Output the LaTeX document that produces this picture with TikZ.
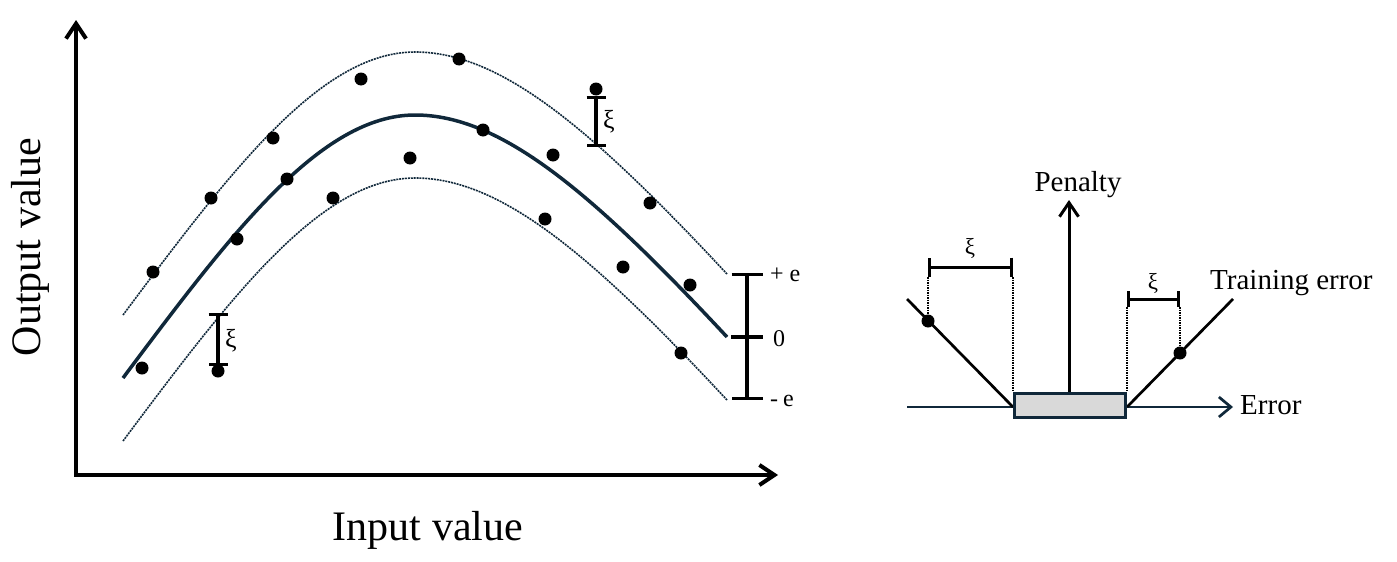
\documentclass[tikz,border=0pt]{standalone}
\usepackage{fontspec}
\setmainfont{Liberation Serif}
\usetikzlibrary{arrows.meta}
\definecolor{navy}{RGB}{16,40,58}
\definecolor{boxgray}{RGB}{217,217,217}
\begin{document}
\begin{tikzpicture}[x=1pt,y=-1pt,
  axisline/.style={line width=4pt, {Straight Barb[length=15pt,width=20pt]}-{Straight Barb[length=15pt,width=20pt]}},
  fitline/.style={draw=navy, line width=3.5pt},
  marginline/.style={draw=navy, line width=1.6pt, dash pattern=on 2pt off 0.9pt},
  datadot/.style={circle, fill=black, inner sep=0pt, minimum size=13pt},
  slackbar/.style={line width=3.2pt, {Bar[width=19pt]}-{Bar[width=19pt]}},
  bracketbar/.style={line width=3pt, {Bar[width=19pt]}-{Bar[width=19pt]}},
  guide/.style={line width=1.2pt, dash pattern=on 1.5pt off 1pt},
  biglabel/.style={font=\fontsize{42}{50}\selectfont, inner sep=0pt},
  midlabel/.style={font=\fontsize{29}{35}\selectfont, inner sep=0pt},
  smalllabel/.style={font=\fontsize{24}{28}\selectfont, inner sep=0pt},
  xilabel/.style={font=\fontsize{26}{30}\selectfont, inner sep=0pt},
  xismall/.style={font=\fontsize{23}{27}\selectfont, inner sep=0pt}]
\useasboundingbox (0,0) rectangle (1397,562);

% ---------- left graph ----------
\coordinate (ytip) at (76,20);
\coordinate (origin) at (76,475);
\coordinate (xtip) at (778,475);
\draw[axisline] (ytip) -- (origin) -- (xtip);

\node[biglabel, anchor=base] (inlab) at (428,540) {Input value};
\node[biglabel, anchor=base, rotate=90] (outlab) at (40,247) {Output value};

% regression tube
\draw[marginline] (123,315) .. controls (230,172) and (320,52) .. (415,52) .. controls (500,52) and (590,127) .. (727,274);
\draw[fitline] (123,378) .. controls (230,235) and (320,115) .. (415,115) .. controls (500,115) and (590,190) .. (727,337);
\draw[marginline] (123,441) .. controls (230,298) and (320,178) .. (415,178) .. controls (500,178) and (590,253) .. (727,400);

% slack bars
\coordinate (s1t) at (218,313);
\coordinate (s1b) at (218,366);
\draw[slackbar] (s1t) -- (s1b);
\node[xilabel] (xi1) at (231,341) {ξ};
\coordinate (s2t) at (596,96);
\coordinate (s2b) at (596,147);
\draw[slackbar] (s2t) -- (s2b);
\node[xilabel] (xi2) at (609,122) {ξ};

% data points
\node[datadot] (d1) at (153,272) {};
\node[datadot] (d2) at (142,368) {};
\node[datadot] (d3) at (211,198) {};
\node[datadot] (d4) at (237,239) {};
\node[datadot] (d5) at (273,138) {};
\node[datadot] (d6) at (287,179) {};
\node[datadot] (d7) at (218,371) {};
\node[datadot] (d8) at (333,198) {};
\node[datadot] (d9) at (361,79) {};
\node[datadot] (d10) at (410,158) {};
\node[datadot] (d11) at (459,59) {};
\node[datadot] (d12) at (483,130) {};
\node[datadot] (d13) at (545,219) {};
\node[datadot] (d14) at (553,155) {};
\node[datadot] (d15) at (596,89) {};
\node[datadot] (d16) at (623,267) {};
\node[datadot] (d17) at (650,203) {};
\node[datadot] (d18) at (690,285) {};
\node[datadot] (d19) at (681,353) {};

% +e / 0 / -e scale
\coordinate (et) at (747,273);
\coordinate (eb) at (747,400);
\coordinate (em1) at (731,337);
\coordinate (em2) at (763,337);
\draw[line width=3.2pt, {Bar[width=31pt]}-{Bar[width=31pt]}] (et) -- (eb);
\draw[line width=3.2pt] (em1) -- (em2);
\node[smalllabel, anchor=west] (plus) at (770,275) {+ e};
\node[smalllabel, anchor=west] (zero) at (773,339) {0};
\node[smalllabel, anchor=west] (minus) at (770,401) {-\hspace{5pt}e};

% ---------- right diagram ----------
\coordinate (eL) at (907,407);
\coordinate (eR) at (1233,407);
\draw[navy, line width=2.7pt, -{Straight Barb[length=12pt,width=20pt]}] (eL) -- (eR);

\coordinate (vL0) at (907,299);
\coordinate (vL1) at (1013,407);
\coordinate (vR0) at (1127,407);
\coordinate (vR1) at (1233,299);
\draw[line width=2.7pt] (vL0) -- (vL1);
\draw[line width=2.7pt] (vR0) -- (vR1);

\node[draw=navy, fill=boxgray, line width=3pt, minimum width=111pt, minimum height=24pt, inner sep=0pt] (box) at (1070,405.5) {};

\coordinate (ptip) at (1069,200);
\draw[line width=3pt, -{Straight Barb[length=14pt,width=19pt]}] (box.north -| ptip) -- (ptip);

\node[datadot] (pL) at (928,321) {};
\node[datadot] (pR) at (1180,353) {};

\coordinate (bL1) at (928,267);
\coordinate (bL2) at (1013,267);
\draw[bracketbar] (bL1) -- (bL2);
\coordinate (gL1) at (928,277);
\coordinate (gL2) at (1013,277);
\draw[guide] (gL1) -- (pL.center);
\draw[guide] (gL2) -- (box.north -| gL2);

\coordinate (bR1) at (1127,299);
\coordinate (bR2) at (1180,299);
\draw[line width=3pt, {Bar[width=16pt]}-{Bar[width=16pt]}] (bR1) -- (bR2);
\coordinate (gR1) at (1127,307);
\coordinate (gR2) at (1180,307);
\draw[guide] (gR1) -- (box.north -| gR1);
\draw[guide] (gR2) -- (pR.center);

\node[xismall] (xi3) at (970,248) {ξ};
\node[xismall] (xi4) at (1153,283) {ξ};

\node[midlabel, anchor=base] (pen) at (1078,191) {Penalty};
\node[midlabel, anchor=base west] (terr) at (1210,289) {Training error};
\node[midlabel, anchor=base west] (err) at (1240,414) {Error};
\end{tikzpicture}
\end{document}
